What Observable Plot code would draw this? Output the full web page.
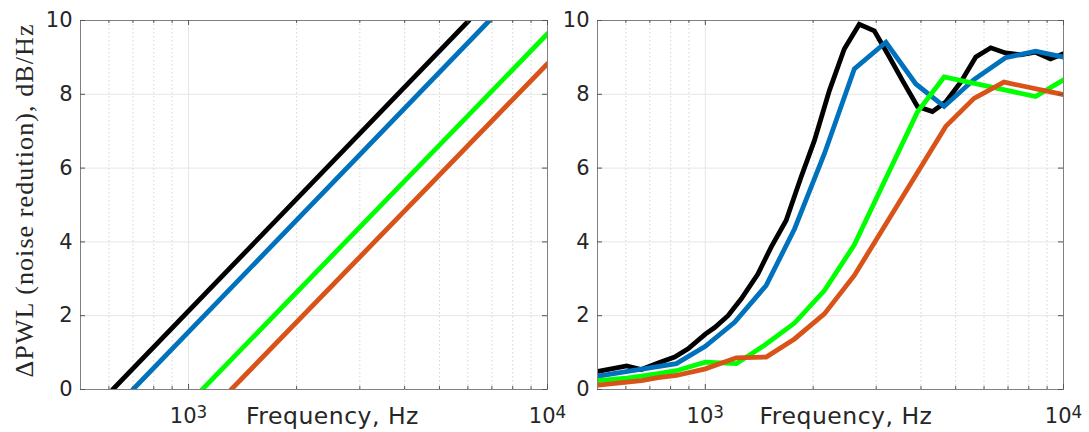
<!DOCTYPE html>
<html><head><meta charset="utf-8">
<script src="https://cdn.jsdelivr.net/npm/d3@7"></script>
<script src="https://cdn.jsdelivr.net/npm/@observablehq/plot@0.6"></script>
<style>
body{margin:0;background:#fff;}
#wrap{display:flex;width:1089px;height:432px;background:#fff;}
#wrap svg{overflow:visible;display:block;background:transparent}
</style></head><body><div id="wrap"></div>
<script>
// series identifiers & colours
const seriesNames = ["s1", "s2", "s3", "s4"];
const seriesColors = ["#000000", "#0072BD", "#00FF00", "#D95319"];

// left panel: straight lines (frequency Hz, value)
const leftS1F = [615, 6040];   const leftS1V = [0, 10];
const leftS2F = [700, 6890];   const leftS2V = [0, 10];
const leftS3F = [1092, 10000]; const leftS3V = [0, 9.64];
const leftS4F = [1315, 10000]; const leftS4V = [0, 8.83];

// right panel: measured curves
const rightS1F = [502, 603, 663, 738, 821, 895, 1000, 1062, 1157, 1260, 1402, 1527, 1681, 1850, 2017, 2220, 2443, 2690, 2963, 3227, 3553, 3910, 4305, 4690, 5164, 5690, 6266, 6887, 7585, 8356, 9199, 10000];
const rightS1V = [0.49, 0.64, 0.54, 0.72, 0.88, 1.10, 1.50, 1.68, 2.00, 2.46, 3.13, 3.86, 4.58, 5.75, 6.75, 8.10, 9.23, 9.90, 9.72, 9.10, 8.37, 7.67, 7.53, 7.79, 8.33, 9.01, 9.26, 9.12, 9.07, 9.14, 8.96, 9.10];
const rightS2F = [502, 625, 830, 1000, 1207, 1479, 1774, 2150, 2606, 3193, 3870, 4642, 5625, 6887, 8356, 10000];
const rightS2V = [0.36, 0.51, 0.70, 1.17, 1.82, 2.82, 4.35, 6.39, 8.69, 9.41, 8.28, 7.67, 8.40, 8.99, 9.17, 9.01];
const rightS3F = [502, 603, 663, 738, 830, 1000, 1220, 1463, 1774, 2150, 2606, 3910, 4642, 8356, 10000];
const rightS3V = [0.24, 0.31, 0.36, 0.43, 0.51, 0.74, 0.70, 1.20, 1.80, 2.68, 3.92, 7.52, 8.47, 7.94, 8.39];
const rightS4F = [502, 603, 663, 738, 830, 1000, 1220, 1479, 1774, 2150, 2606, 4690, 5625, 6820, 10000];
const rightS4V = [0.12, 0.20, 0.24, 0.32, 0.38, 0.56, 0.86, 0.88, 1.37, 2.05, 3.09, 7.13, 7.89, 8.33, 7.99];

// axes
const xDomain = [500, 10000];
const yDomain = [0, 10];
const yTicks = [0, 2, 4, 6, 8, 10];
const yGrid = [2, 4, 6, 8];
const xMajor = [1000, 10000];
const xExponents = ["3", "4"];
const xMinor = [600, 700, 800, 900, 2000, 3000, 4000, 5000, 6000, 7000, 8000, 9000];
const yLabel = "ΔPWL (noise redution), dB/Hz";
const xLabel = "Frequency, Hz";

function rows(fs, vs, name) {
  return fs.map((f, i) => ({f, v: vs[i], s: name}));
}
const leftData = [
  ...rows(leftS1F, leftS1V, "s1"), ...rows(leftS2F, leftS2V, "s2"),
  ...rows(leftS3F, leftS3V, "s3"), ...rows(leftS4F, leftS4V, "s4")];
const rightData = [
  ...rows(rightS1F, rightS1V, "s1"), ...rows(rightS2F, rightS2V, "s2"),
  ...rows(rightS3F, rightS3V, "s3"), ...rows(rightS4F, rightS4V, "s4")];

const H = 432, MT = 20, MB = 43;
const FH = H - MT - MB;

function panel({width, ml, mr, data, withYLabel, labelX}) {
  const FW = width - ml - mr;
  const marks = [
    Plot.ruleY(yGrid, {stroke: "#e6e6e6", strokeWidth: 1}),
    Plot.ruleX(xMinor, {stroke: "#d4d4d4", strokeDasharray: "1.5,2.5", strokeWidth: 1}),
    Plot.ruleX([1000], {stroke: "#e6e6e6", strokeWidth: 1}),
    Plot.line(data, {x: "f", y: "v", z: "s", stroke: "s", strokeWidth: 4.8, strokeLinejoin: "miter", strokeMiterlimit: 3, clip: true}),
    Plot.frame({stroke: "#808080", strokeWidth: 1}),
    // inward ticks
    Plot.ruleY(yTicks, {insetRight: FW - 5, stroke: "#555"}),
    Plot.ruleY(yTicks, {insetLeft: FW - 5, stroke: "#555"}),
    Plot.ruleX(xMajor, {insetTop: FH - 5, stroke: "#555"}),
    Plot.ruleX(xMajor, {insetBottom: FH - 5, stroke: "#555"}),
    Plot.ruleX(xMinor, {insetTop: FH - 3, stroke: "#555"}),
    Plot.ruleX(xMinor, {insetBottom: FH - 3, stroke: "#555"}),
    Plot.axisY({ticks: yTicks, tickSize: 0, tickPadding: 8, fontSize: 21, label: null}),
    Plot.axisX({ticks: xMajor, tickSize: 0, tickPadding: 19, fontSize: 21, label: null,
      tickFormat: d => "10^" + xExponents[xMajor.indexOf(d)]})
  ];
  const svg = Plot.plot({
    width, height: H,
    marginLeft: ml, marginRight: mr, marginTop: MT, marginBottom: MB,
    style: {fontFamily: "DejaVu Sans", color: "#262626", background: "transparent", overflow: "visible"},
    x: {type: "log", domain: xDomain, axis: null},
    y: {domain: yDomain, axis: null},
    color: {domain: seriesNames, range: seriesColors},
    marks
  });
  const s = d3.select(svg);
  // superscripts for 10^n tick labels
  s.selectAll("text").each(function() {
    const t = d3.select(this);
    const m = /^10\^(\d+)$/.exec(t.text());
    if (m) {
      t.text("10");
      t.append("tspan").attr("dy", "-0.3em").attr("font-size", "0.8em").text(m[1]);
    }
  });
  // x-axis title
  s.append("text")
    .attr("x", labelX).attr("y", 423.5)
    .attr("text-anchor", "middle")
    .attr("font-family", "DejaVu Sans").attr("font-size", 23.5)
    .attr("letter-spacing", "0.5px")
    .attr("fill", "#262626")
    .text(xLabel);
  if (withYLabel) {
    s.append("text")
      .attr("transform", "translate(33,201) rotate(-90)")
      .attr("text-anchor", "middle")
      .attr("font-family", "Liberation Serif").attr("font-size", 26)
      .attr("textLength", 353).attr("lengthAdjust", "spacing")
      .attr("fill", "#262626")
      .text(yLabel);
  }
  return svg;
}

const wrap = document.getElementById("wrap");
wrap.appendChild(panel({width: 560, ml: 80, mr: 13, data: leftData, withYLabel: true, labelX: 332.5}));
wrap.appendChild(panel({width: 529, ml: 37, mr: 26, data: rightData, withYLabel: false, labelX: 846 - 560}));
</script>
</body></html>
